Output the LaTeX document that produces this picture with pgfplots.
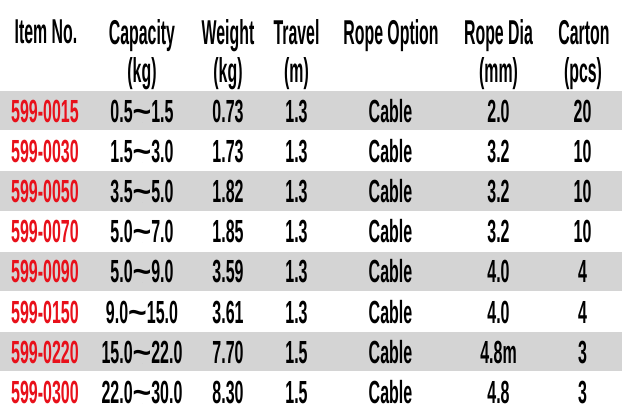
\documentclass[border=0pt]{standalone}
\usepackage{pgfplots}
\pgfplotsset{compat=1.18}
\usepackage{graphicx}
\usepackage{fontspec}
\setmainfont{Liberation Sans}
\newfontfamily\datafont{Liberation Sans}[FakeStretch=0.5]
\newfontfamily\headfont{Liberation Sans}[FakeStretch=0.46]
\newcommand\wt{\scalebox{2.0}[1]{\textasciitilde}}
\definecolor{rowgray}{HTML}{D4D4D4}
\definecolor{itemred}{HTML}{E8101A}
\pgfplotsset{txt/.style={only marks,mark=*,mark size=0pt,mark options={draw=none,fill=none},
  nodes near coords,point meta=explicit symbolic}}
\begin{document}
\begin{tikzpicture}
\begin{axis}[width=622pt,height=418pt,scale only axis,
  xmin=0,xmax=622,ymin=0,ymax=418,y dir=reverse,hide axis,clip=false]
% alternating row stripes
\addplot[draw=rowgray,line width=39pt,forget plot] coordinates {(0,110)(622,110)};
\addplot[draw=rowgray,line width=39.5pt,forget plot] coordinates {(0,191)(622,191)};
\addplot[draw=rowgray,line width=39.5pt,forget plot] coordinates {(0,271.5)(622,271.5)};
\addplot[draw=rowgray,line width=39pt,forget plot] coordinates {(0,351.5)(622,351.5)};
% header
\addplot[txt,
  nodes near coords style={anchor=base,inner sep=0pt,text=black,font=\headfont\bfseries\fontsize{34.5}{34.5}\selectfont}]
  table[col sep=comma,meta=label]{
x,y,label
46,43,Item No.
142,44,Capacity
142,82,(kg)
228,44,Weight
228,82,(kg)
296.5,44,Travel
296.5,82,(m)
391,44,Rope Option
498.5,44,Rope Dia
498.5,82,(mm)
584,44,Carton
583,82,(pcs)
};
% item numbers
\addplot[txt,
  nodes near coords style={anchor=base,inner sep=0pt,text=itemred,font=\datafont\bfseries\fontsize{32}{32}\selectfont}]
  table[col sep=comma,meta=label]{
x,y,label
45,122.5,599-0015
45,162.6,599-0030
45,202.7,599-0050
45,242.8,599-0070
45,282.9,599-0090
45,323.0,599-0150
45,363.1,599-0220
45,403.2,599-0300
};
% body
\addplot[txt,
  nodes near coords style={anchor=base,inner sep=0pt,text=black,font=\datafont\bfseries\fontsize{32}{32}\selectfont}]
  table[col sep=comma,meta=label]{
x,y,label
142,122.5,0.5\wt 1.5
142,162.6,1.5\wt 3.0
142,202.7,3.5\wt 5.0
142,242.8,5.0\wt 7.0
142,282.9,5.0\wt 9.0
142,323.0,9.0\wt 15.0
142,363.1,15.0\wt 22.0
142,403.2,22.0\wt 30.0
228,122.5,0.73
228,162.6,1.73
228,202.7,1.82
228,242.8,1.85
228,282.9,3.59
228,323.0,3.61
228,363.1,7.70
228,403.2,8.30
296.5,122.5,1.3
296.5,162.6,1.3
296.5,202.7,1.3
296.5,242.8,1.3
296.5,282.9,1.3
296.5,323.0,1.3
296.5,363.1,1.5
296.5,403.2,1.5
390.5,122.5,Cable
390.5,162.6,Cable
390.5,202.7,Cable
390.5,242.8,Cable
390.5,282.9,Cable
390.5,323.0,Cable
390.5,363.1,Cable
390.5,403.2,Cable
498.5,122.5,2.0
498.5,162.6,3.2
498.5,202.7,3.2
498.5,242.8,3.2
498.5,282.9,4.0
498.5,323.0,4.0
498.5,363.1,4.8m
498.5,403.2,4.8
582.5,122.5,20
582.5,162.6,10
582.5,202.7,10
582.5,242.8,10
582.5,282.9,4
582.5,323.0,4
582.5,363.1,3
582.5,403.2,3
};
\end{axis}
\pgfresetboundingbox
\useasboundingbox (current axis.south west) rectangle (current axis.north east);
\end{tikzpicture}
\end{document}
